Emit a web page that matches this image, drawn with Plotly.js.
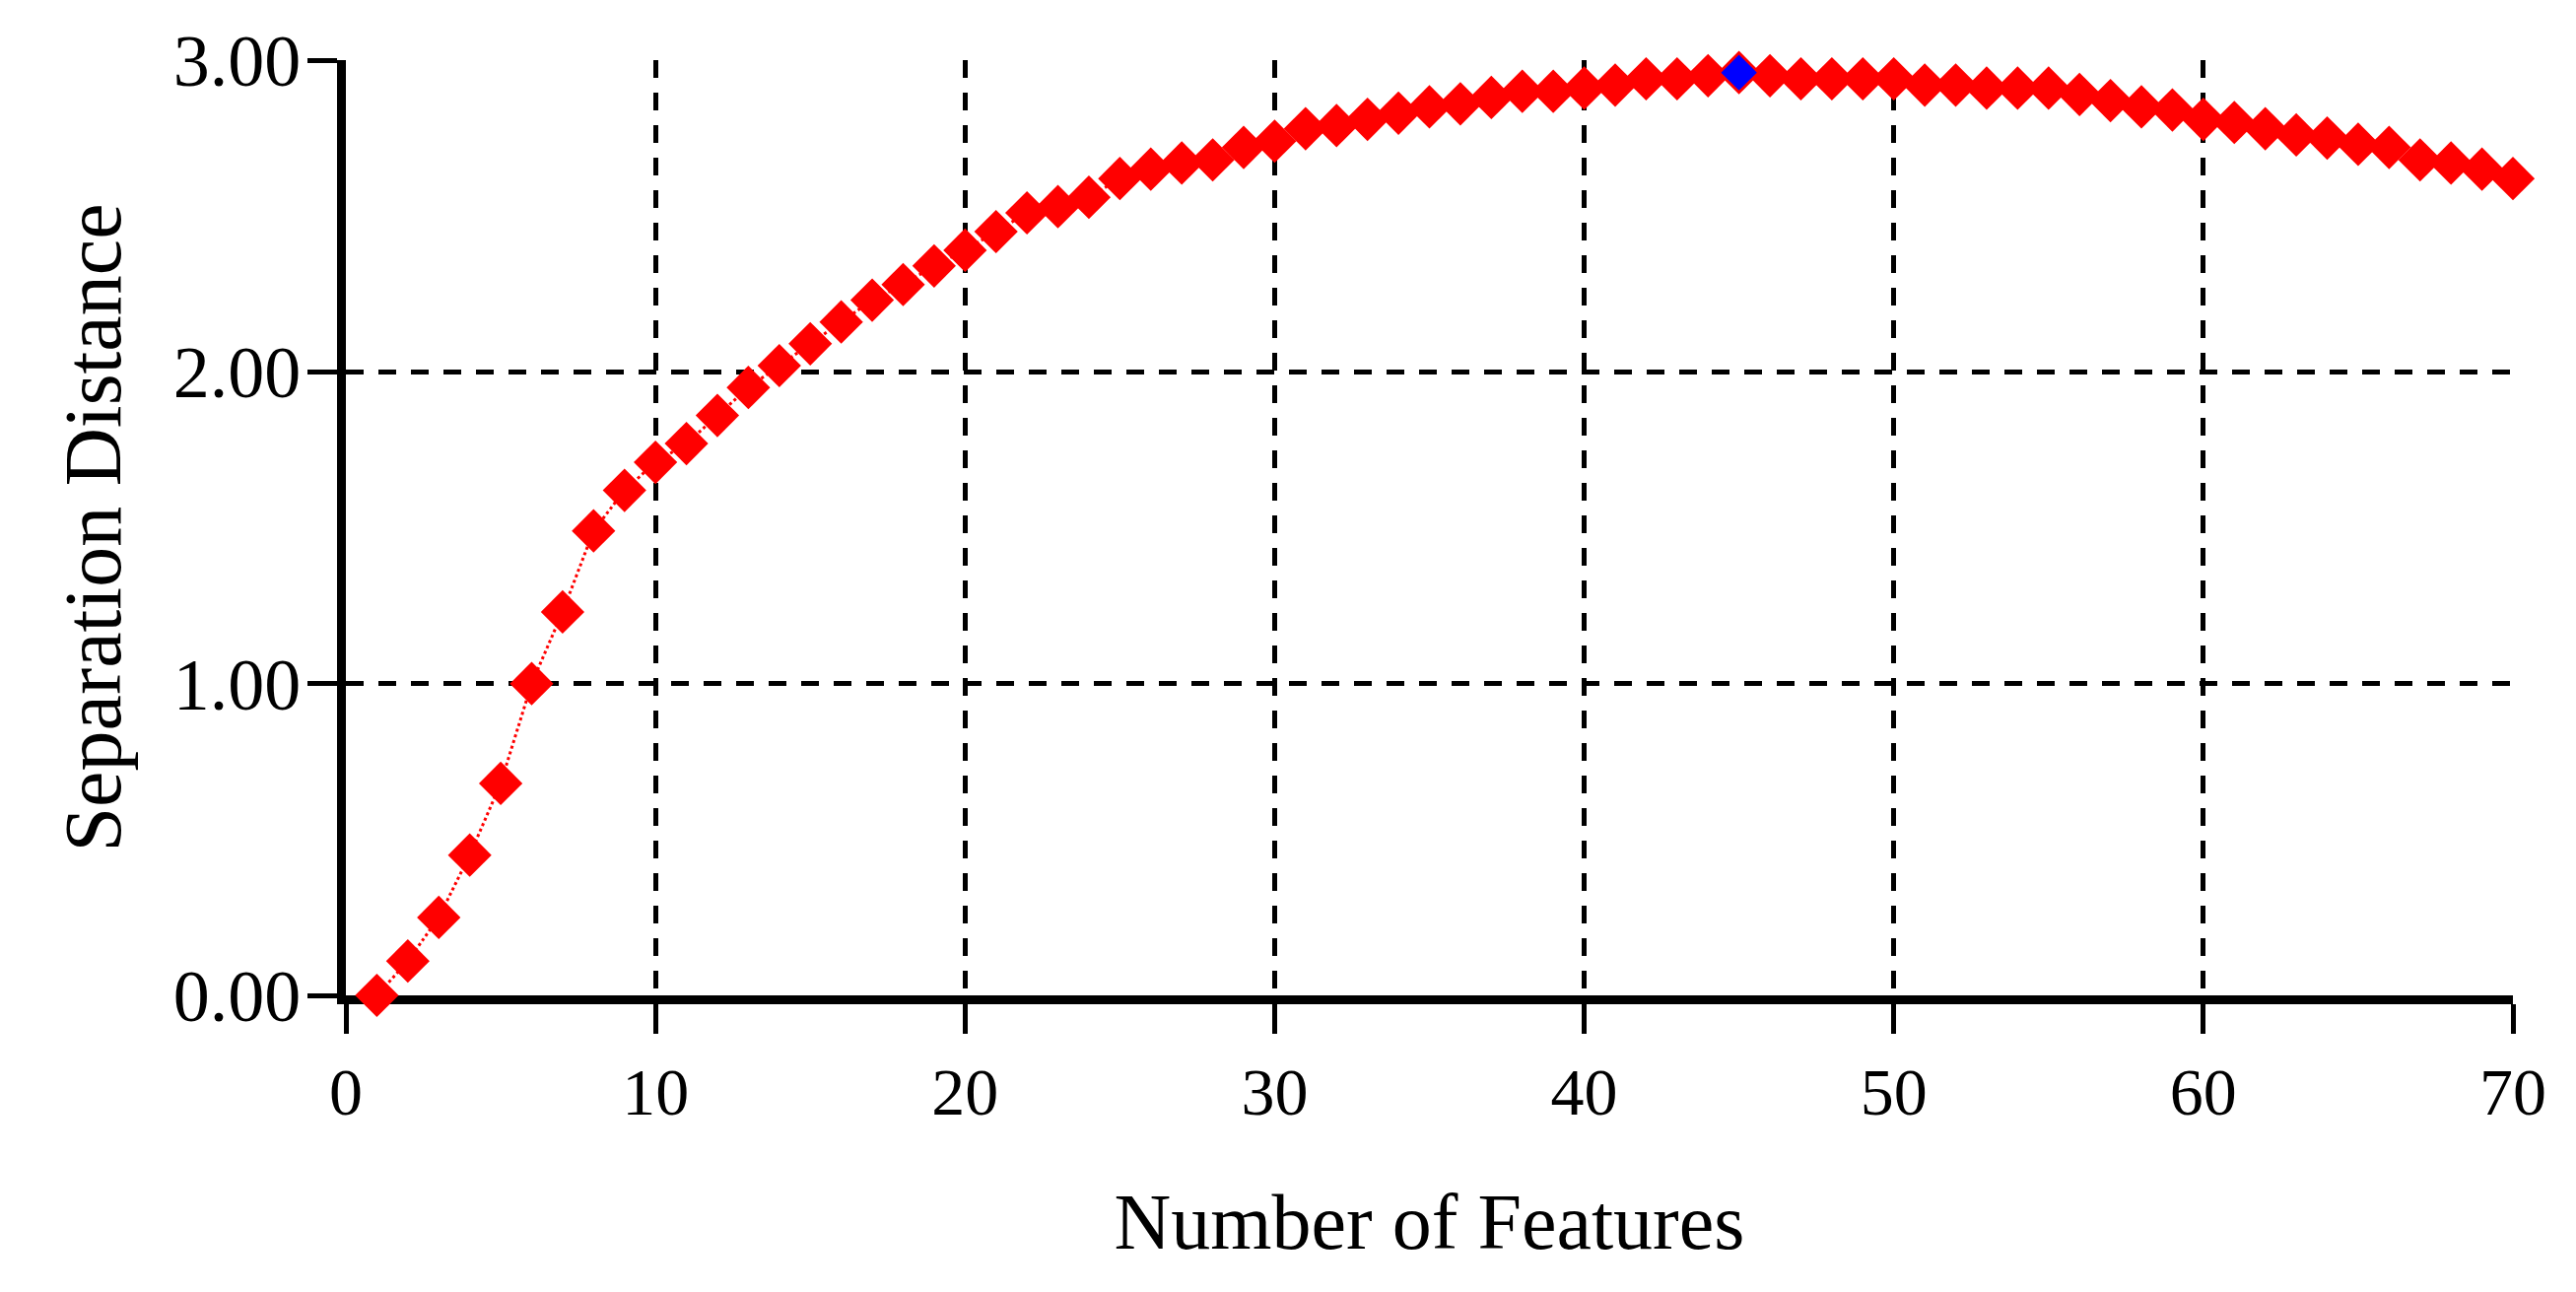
<!DOCTYPE html>
<html>
<head>
<meta charset="utf-8">
<script src="https://cdn.plot.ly/plotly-3.0.1.min.js"></script>
<style>
html,body{margin:0;padding:0;background:#fff;}
#chart{width:2614px;height:1311px;}
</style>
</head>
<body>
<div id="chart"></div>
<script>
var features = [];
for (var i = 1; i <= 70; i++) features.push(i);
var separation = [
  0.00, 0.11, 0.25, 0.45, 0.68, 1.00, 1.23, 1.49, 1.62, 1.71,
  1.77, 1.86, 1.95, 2.02, 2.09, 2.16, 2.23, 2.28, 2.34, 2.39,
  2.45, 2.51, 2.53, 2.56, 2.62, 2.65, 2.67, 2.68, 2.72, 2.74,
  2.78, 2.79, 2.81, 2.83, 2.85, 2.86, 2.88, 2.90, 2.90, 2.91,
  2.92, 2.94, 2.94, 2.95, 2.96, 2.95, 2.94, 2.94, 2.94, 2.94,
  2.92, 2.92, 2.91, 2.91, 2.91, 2.89, 2.87, 2.85, 2.84, 2.81,
  2.80, 2.78, 2.76, 2.75, 2.73, 2.72, 2.68, 2.67, 2.65, 2.62
];
var bestX = [45];
var bestY = [2.96];
var xTicks = [0, 10, 20, 30, 40, 50, 60, 70];
var yTicks = [0, 1, 2, 3];
var yTickText = ['0.00', '1.00', '2.00', '3.00'];

var traces = [
  {
    x: features, y: separation, type: 'scatter', mode: 'lines+markers',
    line: {color: '#ff0000', width: 3, dash: 'dot'},
    marker: {symbol: 'diamond', size: 34, color: '#ff0000'},
    cliponaxis: false, showlegend: false, hoverinfo: 'x+y'
  },
  {
    x: bestX, y: bestY, type: 'scatter', mode: 'markers',
    marker: {symbol: 'diamond', size: 28, color: '#0000ff'},
    cliponaxis: false, showlegend: false
  }
];

var layout = {
  width: 2614, height: 1311,
  paper_bgcolor: '#ffffff', plot_bgcolor: '#ffffff',
  margin: {l: 351, r: 64, t: 61, b: 301, pad: 0},
  font: {family: '"Liberation Serif", "Times New Roman", serif', color: '#000000'},
  xaxis: {
    range: [0, 70], tickmode: 'array', tickvals: xTicks,
    ticks: 'outside', ticklen: 30, tickwidth: 5, tickcolor: '#000',
    showline: true, linecolor: '#000', linewidth: 9,
    showgrid: true, gridcolor: '#000', gridwidth: 5, griddash: '18px,15px',
    zeroline: false, layer: 'below traces',
    tickfont: {size: 68, family: '"Liberation Serif", serif'},
    title: {text: 'Number of Features', font: {size: 80, family: '"Liberation Serif", serif'}, standoff: 70}
  },
  yaxis: {
    range: [0, 3], tickmode: 'array', tickvals: yTicks, ticktext: yTickText,
    ticks: 'outside', ticklen: 30, tickwidth: 5, tickcolor: '#000',
    showline: true, linecolor: '#000', linewidth: 9,
    showgrid: true, gridcolor: '#000', gridwidth: 5, griddash: '18px,15px',
    zeroline: false, layer: 'below traces', ticklabelstandoff: -8,
    tickfont: {size: 74, family: '"Liberation Serif", serif'},
    title: {text: 'Separation Distance', font: {size: 82, family: '"Liberation Serif", serif'}, standoff: 30}
  }
};

Plotly.newPlot('chart', traces, layout, {displayModeBar: false, staticPlot: true});
</script>
</body>
</html>
